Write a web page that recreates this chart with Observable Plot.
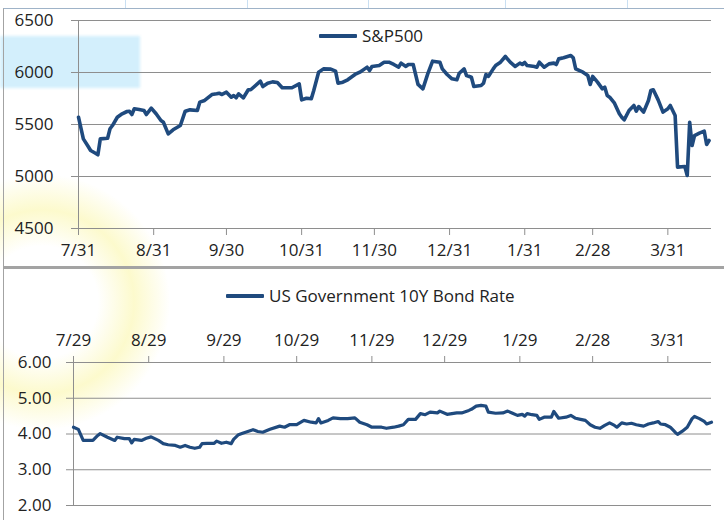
<!DOCTYPE html>
<html><head><meta charset="utf-8">
<script src="https://cdn.jsdelivr.net/npm/d3@7"></script>
<script src="https://cdn.jsdelivr.net/npm/@observablehq/plot@0.6"></script>
<style>
html,body{margin:0;padding:0;background:#fff;}
#wrap{position:relative;width:724px;height:520px;overflow:hidden;font-family:"Open Sans",sans-serif;background:#fff;}
.abs{position:absolute;}
.legend{position:absolute;display:flex;align-items:center;font-size:17px;line-height:17px;color:#222;white-space:nowrap;}
.legend .sw{display:inline-block;width:38px;height:4px;background:#1f4a7e;margin-right:5px;border-radius:1px;}
.cell{position:absolute;top:0;width:1px;height:8px;background:#c9dff2;}
</style></head><body>
<div id="wrap">
  <div class="abs" style="left:0;top:36px;width:140px;height:52px;background:rgba(190,232,250,0.68);filter:blur(1.5px);"></div>
  <div class="abs" style="left:-86px;top:174px;width:256px;height:256px;border-radius:50%;background:radial-gradient(circle, rgba(255,255,255,0) 0px, rgba(255,255,255,0) 56px, rgba(252,249,196,0.85) 92px, rgba(252,250,205,0) 128px);"></div>
  <div class="cell" style="left:125px"></div>
  <div class="cell" style="left:247px"></div>
  <div class="cell" style="left:368px"></div>
  <div class="cell" style="left:505px"></div>
  <div class="cell" style="left:627px"></div>
  <div class="abs" style="left:3px;top:8px;width:740px;height:257px;border:1px solid #a3a3a3;border-top-color:#9fb3c8;"></div>
  <div class="abs" style="left:3px;top:267px;width:740px;height:270px;border:1px solid #a3a3a3;border-top-width:2px;"></div>
  <div id="top" class="abs" style="left:0;top:0;"></div>
  <div id="bottom" class="abs" style="left:0;top:265px;"></div>
  <div id="leg1" class="legend" style="left:319px;top:27px;"><span class="sw"></span><span class="tx"></span></div>
  <div id="leg2" class="legend" style="left:226px;top:287px;"><span class="sw"></span><span class="tx"></span></div>
</div>
<script>
const seriesNames = ["S&P500", "US Government 10Y Bond Rate"];

const spDates = ["2024-07-31","2024-08-02","2024-08-04","2024-08-05","2024-08-07","2024-08-08","2024-08-09","2024-08-12","2024-08-13","2024-08-14","2024-08-16","2024-08-18","2024-08-20","2024-08-21","2024-08-22","2024-08-23","2024-08-25","2024-08-27","2024-08-28","2024-08-30","2024-09-01","2024-09-03","2024-09-04","2024-09-06","2024-09-08","2024-09-11","2024-09-13","2024-09-15","2024-09-18","2024-09-19","2024-09-21","2024-09-24","2024-09-26","2024-09-27","2024-09-28","2024-09-30","2024-10-02","2024-10-03","2024-10-04","2024-10-05","2024-10-07","2024-10-09","2024-10-10","2024-10-14","2024-10-15","2024-10-17","2024-10-19","2024-10-21","2024-10-23","2024-10-27","2024-10-30","2024-10-31","2024-11-02","2024-11-04","2024-11-05","2024-11-07","2024-11-09","2024-11-12","2024-11-14","2024-11-15","2024-11-17","2024-11-19","2024-11-22","2024-11-24","2024-11-26","2024-11-27","2024-11-28","2024-11-29","2024-12-02","2024-12-04","2024-12-06","2024-12-08","2024-12-10","2024-12-11","2024-12-13","2024-12-14","2024-12-16","2024-12-18","2024-12-20","2024-12-22","2024-12-24","2024-12-27","2024-12-28","2024-12-30","2025-01-01","2025-01-03","2025-01-04","2025-01-06","2025-01-07","2025-01-09","2025-01-10","2025-01-13","2025-01-14","2025-01-15","2025-01-16","2025-01-18","2025-01-19","2025-01-21","2025-01-23","2025-01-25","2025-01-27","2025-01-29","2025-01-30","2025-01-31","2025-02-01","2025-02-04","2025-02-05","2025-02-06","2025-02-08","2025-02-10","2025-02-12","2025-02-13","2025-02-14","2025-02-16","2025-02-19","2025-02-20","2025-02-21","2025-02-24","2025-02-26","2025-02-27","2025-02-28","2025-03-02","2025-03-04","2025-03-05","2025-03-06","2025-03-07","2025-03-09","2025-03-11","2025-03-12","2025-03-13","2025-03-15","2025-03-17","2025-03-18","2025-03-19","2025-03-21","2025-03-23","2025-03-24","2025-03-25","2025-03-27","2025-03-29","2025-03-31","2025-04-01","2025-04-03","2025-04-04","2025-04-07","2025-04-08","2025-04-09","2025-04-10","2025-04-11","2025-04-13","2025-04-15","2025-04-16","2025-04-17"];
const spValues = [5570,5362,5288,5250,5224,5209,5362,5368,5459,5490,5570,5603,5625,5628,5596,5651,5644,5635,5596,5657,5603,5538,5522,5410,5449,5490,5628,5641,5635,5715,5731,5788,5795,5801,5788,5811,5763,5779,5757,5795,5757,5834,5834,5917,5865,5897,5910,5904,5853,5853,5891,5737,5753,5747,5827,6003,6035,6032,6013,5897,5907,5930,5981,6003,6035,6051,6019,6058,6067,6099,6099,6077,6051,6090,6058,6077,6077,5885,5843,5987,6109,6099,6035,5981,5939,5930,5993,6035,5971,5955,5865,5875,5897,5981,5962,6035,6067,6099,6154,6099,6058,6090,6077,6096,6067,6058,6051,6099,6051,6083,6090,6077,6131,6141,6163,6141,6035,6003,5971,5885,5962,5907,5843,5859,5779,5763,5705,5603,5570,5545,5635,5683,5628,5673,5619,5731,5827,5834,5737,5619,5651,5683,5587,5090,5096,5010,5522,5298,5394,5417,5436,5308,5346];
const spXDomain = ["2024-07-31","2025-04-18"];
const spXTicks = ["2024-07-31","2024-08-31","2024-09-30","2024-10-31","2024-11-30","2024-12-31","2025-01-31","2025-02-28","2025-03-31"];
const spYTicks = [4500,5000,5500,6000,6500];

const bondDates = ["2024-07-29","2024-07-31","2024-08-02","2024-08-06","2024-08-08","2024-08-09","2024-08-12","2024-08-15","2024-08-16","2024-08-19","2024-08-21","2024-08-22","2024-08-23","2024-08-26","2024-08-28","2024-08-30","2024-09-02","2024-09-04","2024-09-06","2024-09-09","2024-09-11","2024-09-13","2024-09-15","2024-09-17","2024-09-19","2024-09-20","2024-09-22","2024-09-25","2024-09-26","2024-09-28","2024-09-30","2024-10-02","2024-10-03","2024-10-05","2024-10-07","2024-10-11","2024-10-13","2024-10-15","2024-10-18","2024-10-22","2024-10-24","2024-10-26","2024-10-29","2024-11-01","2024-11-04","2024-11-06","2024-11-07","2024-11-08","2024-11-11","2024-11-13","2024-11-16","2024-11-19","2024-11-22","2024-11-24","2024-11-27","2024-11-29","2024-12-03","2024-12-05","2024-12-08","2024-12-10","2024-12-12","2024-12-14","2024-12-17","2024-12-19","2024-12-21","2024-12-23","2024-12-26","2024-12-27","2024-12-30","2025-01-01","2025-01-03","2025-01-05","2025-01-08","2025-01-09","2025-01-11","2025-01-13","2025-01-15","2025-01-16","2025-01-19","2025-01-22","2025-01-24","2025-01-26","2025-01-28","2025-01-30","2025-01-31","2025-02-01","2025-02-03","2025-02-05","2025-02-06","2025-02-08","2025-02-11","2025-02-12","2025-02-14","2025-02-17","2025-02-19","2025-02-21","2025-02-23","2025-02-25","2025-02-27","2025-03-01","2025-03-03","2025-03-05","2025-03-07","2025-03-09","2025-03-10","2025-03-12","2025-03-14","2025-03-16","2025-03-18","2025-03-21","2025-03-23","2025-03-25","2025-03-27","2025-03-28","2025-03-30","2025-04-01","2025-04-03","2025-04-04","2025-04-06","2025-04-08","2025-04-10","2025-04-11","2025-04-13","2025-04-15","2025-04-16","2025-04-18"];
const bondValues = [4.19,4.13,3.82,3.82,3.96,4.01,3.91,3.82,3.91,3.87,3.87,3.75,3.85,3.82,3.88,3.92,3.82,3.73,3.70,3.68,3.63,3.68,3.63,3.60,3.63,3.73,3.74,3.74,3.80,3.74,3.77,3.73,3.85,3.98,4.03,4.12,4.07,4.05,4.13,4.22,4.19,4.26,4.26,4.38,4.33,4.31,4.43,4.31,4.38,4.45,4.43,4.43,4.45,4.33,4.26,4.19,4.19,4.16,4.19,4.22,4.26,4.41,4.41,4.57,4.54,4.61,4.59,4.64,4.55,4.57,4.59,4.59,4.66,4.69,4.78,4.80,4.78,4.61,4.58,4.59,4.64,4.58,4.52,4.55,4.50,4.57,4.54,4.52,4.41,4.47,4.47,4.63,4.44,4.47,4.52,4.44,4.41,4.38,4.26,4.19,4.16,4.24,4.31,4.24,4.19,4.31,4.28,4.30,4.26,4.22,4.28,4.31,4.35,4.28,4.26,4.19,4.05,3.99,4.08,4.19,4.43,4.49,4.43,4.35,4.28,4.33];
const bondXDomain = ["2024-07-29","2025-04-18"];
const bondXTicks = ["2024-07-29","2024-08-29","2024-09-29","2024-10-29","2024-11-29","2024-12-29","2025-01-29","2025-02-28","2025-03-31"];
const bondYTicks = [2,3,4,5,6];

const parse = d3.utcParse("%Y-%m-%d");
const fmtDate = d3.utcFormat("%-m/%-d");
const lineColor = "#1f4a7e";
const gridColor = "#8e8e8e";
const textColor = "#222";
const baseStyle = {background:"transparent", fontFamily:'"Open Sans", sans-serif', fontSize:"17px", color:textColor, overflow:"visible"};

const sp = spDates.map((d,i)=>({date: parse(d), value: spValues[i]}));
const bond = bondDates.map((d,i)=>({date: parse(d), value: bondValues[i]}));

const topPlot = Plot.plot({
  width: 724, height: 266,
  marginTop: 20, marginBottom: 38, marginLeft: 78, marginRight: 13,
  style: baseStyle,
  x: {type: "utc", domain: spXDomain.map(parse)},
  y: {domain: [spYTicks[0], spYTicks[spYTicks.length-1]]},
  marks: [
    Plot.gridY(spYTicks, {stroke: gridColor, strokeOpacity: 1, strokeWidth: 1}),
    Plot.ruleX([parse(spXTicks[0])], {stroke: gridColor, strokeWidth: 1}),
    Plot.axisY(spYTicks, {tickSize: 7, tickPadding: 18, tickFormat: d3.format("d"), stroke: gridColor, fill: textColor, label: null}),
    Plot.axisX(spXTicks.map(parse), {tickSize: 7, tickPadding: 8, tickFormat: fmtDate, stroke: gridColor, fill: textColor, label: null}),
    Plot.line(sp, {x: "date", y: "value", stroke: lineColor, strokeWidth: 3.6, strokeLinejoin: "round", strokeLinecap: "round"})
  ]
});
document.getElementById("top").appendChild(topPlot);

const bottomPlot = Plot.plot({
  width: 724, height: 255,
  marginTop: 97, marginBottom: 15, marginLeft: 73, marginRight: 13,
  style: baseStyle,
  x: {type: "utc", domain: bondXDomain.map(parse)},
  y: {domain: [bondYTicks[0], bondYTicks[bondYTicks.length-1]]},
  marks: [
    Plot.gridY(bondYTicks, {stroke: gridColor, strokeOpacity: 1, strokeWidth: 1}),
    Plot.ruleX([parse(bondXTicks[0])], {stroke: gridColor, strokeWidth: 1}),
    Plot.axisY(bondYTicks, {tickSize: 7, tickPadding: 15, tickFormat: d3.format(".2f"), stroke: gridColor, fill: textColor, label: null}),
    Plot.axisX(bondXTicks.map(parse), {anchor: "top", tickSize: 7, tickPadding: 10, tickFormat: fmtDate, stroke: gridColor, fill: textColor, label: null}),
    Plot.line(bond, {x: "date", y: "value", stroke: lineColor, strokeWidth: 3.2, strokeLinejoin: "round", strokeLinecap: "round"})
  ]
});
document.getElementById("bottom").appendChild(bottomPlot);

document.querySelector("#leg1 .tx").textContent = seriesNames[0];
document.querySelector("#leg2 .tx").textContent = seriesNames[1];
</script>
</body></html>
